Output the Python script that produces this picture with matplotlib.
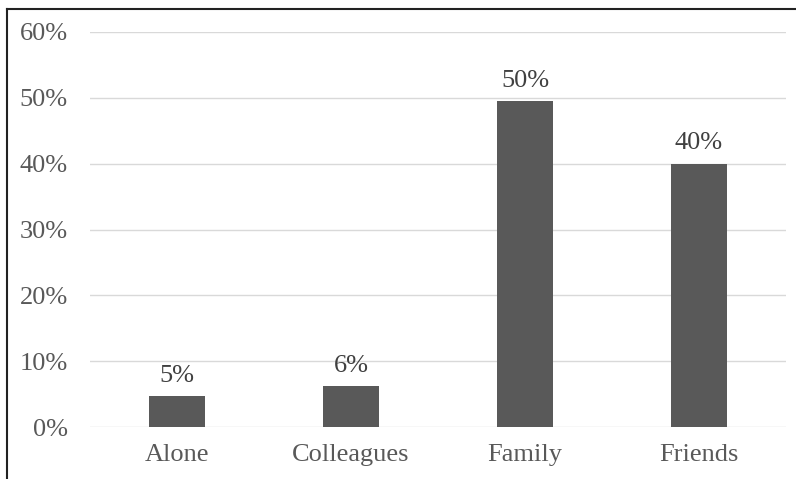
import matplotlib.pyplot as plt
from matplotlib.lines import Line2D
from matplotlib.ticker import PercentFormatter

categories = ["Alone", "Colleagues", "Family", "Friends"]
shares = [0.047, 0.062, 0.495, 0.40]
labels = ["5%", "6%", "50%", "40%"]

W, H = 796, 479
fig = plt.figure(figsize=(W / 100, H / 100), dpi=100)
ax = fig.add_axes([90 / W, 1 - 427 / H, 696 / W, (427 - 32) / H])

plt.rcParams['font.family'] = ['Liberation Serif', 'DejaVu Serif']

bars = ax.bar(categories, shares, width=0.32, color='#595959', zorder=3)
for b, lab in zip(bars, labels):
    ax.text(b.get_x() + b.get_width() / 2, b.get_height() + 0.014, lab,
            ha='center', va='bottom', fontsize=19, color='#404040',
            family='Liberation Serif')

ax.set_xlim(-0.5, 3.5)
ax.set_ylim(0, 0.6)
ax.set_yticks([0, 0.1, 0.2, 0.3, 0.4, 0.5, 0.6])
ax.yaxis.set_major_formatter(PercentFormatter(1.0, decimals=0))
ax.grid(True, axis='y', color='#d9d9d9', linewidth=1, zorder=0)
ax.set_axisbelow(True)
for s in ax.spines.values():
    s.set_visible(False)
ax.tick_params(length=0, labelsize=19, labelcolor='#595959')
ax.tick_params(axis='y', pad=16)
ax.tick_params(axis='x', pad=12)
for t in ax.get_xticklabels() + ax.get_yticklabels():
    t.set_family('Liberation Serif')

# outer frame (left and top edges of the cropped figure)
fig.add_artist(Line2D([7 / W, 7 / W], [0, 1 - 9 / H], color='#222222', lw=1.5))
fig.add_artist(Line2D([7 / W, 1], [1 - 9 / H, 1 - 9 / H], color='#222222', lw=1.5))

fig.savefig("out.png", dpi=100)
